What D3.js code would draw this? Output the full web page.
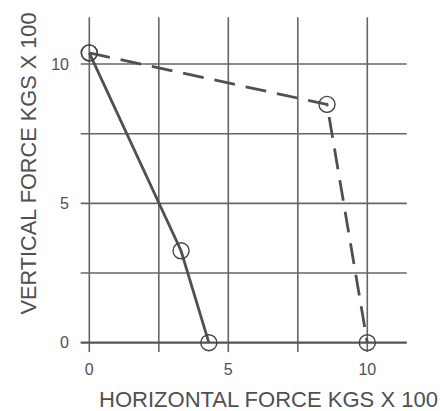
<!DOCTYPE html>
<html>
<head>
<meta charset="utf-8">
<script src="https://cdn.jsdelivr.net/npm/d3@7"></script>
<style>
  body { margin: 0; background: #fff; }
  svg { display: block; font-family: "Liberation Sans", Arial, sans-serif; }
</style>
</head>
<body>
<div id="chart"></div>
<script>
// values (units: kgs x 100)
const gridTicks = [0, 2.5, 5, 7.5, 10];
const labelTicks = [0, 5, 10];

const solidX = [0, 3.3, 4.3];
const solidY = [10.4, 3.3, 0];

const dashedX = [0, 8.55, 10];
const dashedY = [10.4, 8.55, 0];

const xTitle = "HORIZONTAL FORCE KGS X 100";
const yTitle = "VERTICAL FORCE KGS X 100";

const width = 440, height = 411;
const grey = "#666";
const ink = "#505050";

const x = d3.scaleLinear().domain([0, 10]).range([89.3, 367.3]);
const y = d3.scaleLinear().domain([0, 10]).range([342.7, 64]);

const xMin = -0.31, xMax = 11.42;
const yMin = -0.33, yMax = 11.68;

const svg = d3.select("#chart")
              .append("svg")
              .attr("width", width)
              .attr("height", height);

const grid = svg.append("g").attr("class", "grid");

grid.selectAll(".vline")
    .data(gridTicks)
    .enter()
    .append("line")
    .attr("class", "vline")
    .attr("x1", d => x(d))
    .attr("x2", d => x(d))
    .attr("y1", y(yMax))
    .attr("y2", y(yMin))
    .attr("stroke", grey)
    .attr("stroke-width", 1.6);

grid.selectAll(".hline")
    .data(gridTicks)
    .enter()
    .append("line")
    .attr("class", "hline")
    .attr("x1", x(xMin))
    .attr("x2", x(xMax))
    .attr("y1", d => y(d))
    .attr("y2", d => y(d))
    .attr("stroke", d => d === 0 ? "#555" : grey)
    .attr("stroke-width", d => d === 0 ? 2.2 : 1.6);

// tick labels
svg.selectAll(".xlab")
   .data(labelTicks)
   .enter()
   .append("text")
   .attr("class", "xlab")
   .attr("x", d => x(d))
   .attr("y", 375)
   .attr("text-anchor", "middle")
   .attr("font-size", 16)
   .attr("fill", ink)
   .text(d => d);

svg.selectAll(".ylab")
   .data(labelTicks)
   .enter()
   .append("text")
   .attr("class", "ylab")
   .attr("x", 69)
   .attr("y", d => y(d))
   .attr("dy", "0.36em")
   .attr("text-anchor", "end")
   .attr("font-size", 16)
   .attr("fill", ink)
   .text(d => d);

// axis titles
svg.append("text")
   .attr("x", 268.5)
   .attr("y", 406.5)
   .attr("text-anchor", "middle")
   .attr("font-size", 22)
   .attr("textLength", 339)
   .attr("lengthAdjust", "spacingAndGlyphs")
   .attr("fill", ink)
   .text(xTitle);

svg.append("text")
   .attr("transform", "translate(35.5,163.5) rotate(-90)")
   .attr("text-anchor", "middle")
   .attr("font-size", 22)
   .attr("textLength", 302)
   .attr("lengthAdjust", "spacingAndGlyphs")
   .attr("fill", ink)
   .text(yTitle);

// data lines
const line = d3.line()
               .x(d => x(d[0]))
               .y(d => y(d[1]));

const series = [
    {name: "solid", pts: d3.zip(solidX, solidY), dash: null},
    {name: "dashed", pts: d3.zip(dashedX, dashedY), dash: "21,11"}
];

series.forEach(function(s) {
    svg.append("path")
       .datum(s.pts)
       .attr("d", line)
       .attr("fill", "none")
       .attr("stroke", ink)
       .attr("stroke-width", 2.8)
       .attr("stroke-dasharray", s.dash);

    svg.selectAll(".pt-" + s.name)
       .data(s.pts)
       .enter()
       .append("circle")
       .attr("class", "pt-" + s.name)
       .attr("cx", d => x(d[0]))
       .attr("cy", d => y(d[1]))
       .attr("r", 8)
       .attr("fill", "none")
       .attr("stroke", "#444")
       .attr("stroke-width", 1.4);
});
</script>
</body>
</html>
